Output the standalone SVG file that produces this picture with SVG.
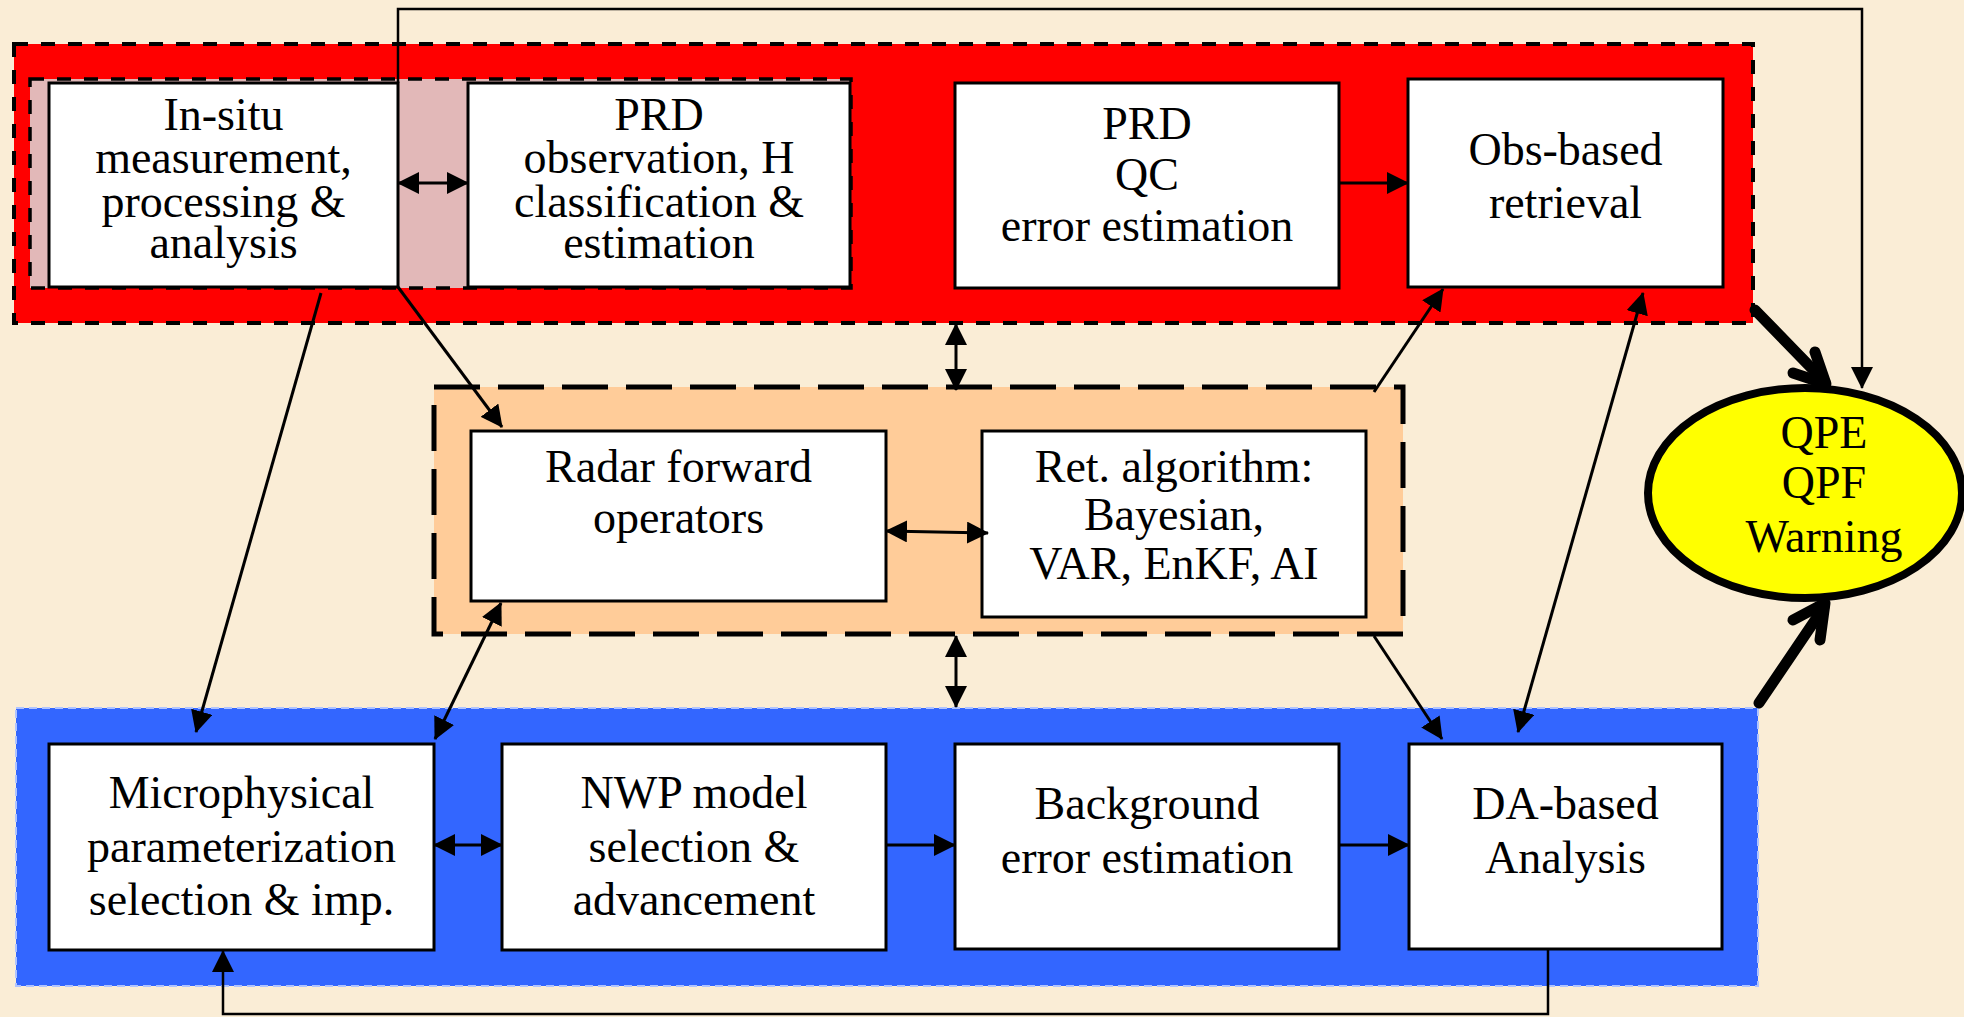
<svg xmlns="http://www.w3.org/2000/svg" width="1964" height="1017" viewBox="0 0 1964 1017">
<defs>
<style>
.box{fill:#ffffff;stroke:#000;stroke-width:3}
.t{font-family:"Liberation Serif","Times New Roman",serif;font-size:46px;fill:#000;text-anchor:middle}
.c{fill:none;stroke:#000;stroke-width:3}
.thin{fill:none;stroke:#000;stroke-width:2.5}
.thick{fill:none;stroke:#000;stroke-width:11;stroke-linecap:round;stroke-linejoin:round}
</style>
<marker id="ah" viewBox="0 0 22 22" refX="21" refY="11" markerWidth="22" markerHeight="22" markerUnits="userSpaceOnUse" orient="auto-start-reverse">
<path d="M0,0 L22,11 L0,22 z" fill="#000"/>
</marker>
</defs>
<rect x="0" y="0" width="1964" height="1017" fill="#FAEDD6"/>

<g id="group-red">
<rect x="14" y="44" width="1739" height="279" fill="#FF0000" stroke="#000" stroke-width="4" stroke-dasharray="14 13"/>
<rect x="30" y="79" width="821" height="209" fill="#E2B8B8" stroke="#000" stroke-width="3.5" stroke-dasharray="14 13"/>
</g>
<g id="group-orange">
<rect x="434" y="387" width="969" height="247" fill="#FFCC99" stroke="#000" stroke-width="5" stroke-dasharray="46 18"/>
</g>
<g id="group-blue">
<rect x="16" y="708" width="1742" height="278" fill="#3366FF" stroke="#AFC3FF" stroke-width="2" stroke-dasharray="8 5"/>
</g>

<g id="node-insitu">
<rect class="box" x="49" y="83" width="349" height="204"/>
<text class="t" x="223.5" y="130">In-situ</text>
<text class="t" x="223.5" y="173">measurement,</text>
<text class="t" x="223.5" y="217">processing &amp;</text>
<text class="t" x="223.5" y="258">analysis</text>
</g>
<g id="node-prdobs">
<rect class="box" x="468" y="83" width="382" height="204"/>
<text class="t" x="659" y="130">PRD</text>
<text class="t" x="659" y="173">observation, H</text>
<text class="t" x="659" y="217">classification &amp;</text>
<text class="t" x="659" y="258">estimation</text>
</g>
<g id="node-prdqc">
<rect class="box" x="955" y="83" width="384" height="205"/>
<text class="t" x="1147" y="139">PRD</text>
<text class="t" x="1147" y="190">QC</text>
<text class="t" x="1147" y="241">error estimation</text>
</g>
<g id="node-obs">
<rect class="box" x="1408" y="79" width="315" height="208"/>
<text class="t" x="1565.5" y="165">Obs-based</text>
<text class="t" x="1565.5" y="218">retrieval</text>
</g>
<g id="node-radar">
<rect class="box" x="471" y="431" width="415" height="170"/>
<text class="t" x="678.5" y="482">Radar forward</text>
<text class="t" x="678.5" y="533">operators</text>
</g>
<g id="node-ret">
<rect class="box" x="982" y="431" width="384" height="186"/>
<text class="t" x="1174" y="482">Ret. algorithm:</text>
<text class="t" x="1174" y="530">Bayesian,</text>
<text class="t" x="1174" y="579">VAR, EnKF, AI</text>
</g>
<g id="node-micro">
<rect class="box" x="49" y="744" width="385" height="206"/>
<text class="t" x="241.5" y="808">Microphysical</text>
<text class="t" x="241.5" y="862">parameterization</text>
<text class="t" x="241.5" y="915">selection &amp; imp.</text>
</g>
<g id="node-nwp">
<rect class="box" x="502" y="744" width="384" height="206"/>
<text class="t" x="694" y="808">NWP model</text>
<text class="t" x="694" y="862">selection &amp;</text>
<text class="t" x="694" y="915">advancement</text>
</g>
<g id="node-bg">
<rect class="box" x="955" y="744" width="384" height="205"/>
<text class="t" x="1147" y="819">Background</text>
<text class="t" x="1147" y="873">error estimation</text>
</g>
<g id="node-da">
<rect class="box" x="1409" y="744" width="313" height="205"/>
<text class="t" x="1565.5" y="819">DA-based</text>
<text class="t" x="1565.5" y="873">Analysis</text>
</g>
<g id="node-qpe">
<ellipse cx="1805" cy="493" rx="157" ry="105" fill="#FFFF00" stroke="#000" stroke-width="8"/>
<text class="t" x="1824" y="448">QPE</text>
<text class="t" x="1824" y="498">QPF</text>
<text class="t" x="1824" y="552">Warning</text>
</g>

<g id="connectors">
<path class="thin" d="M398,83 L398,9 L1862,9 L1862,388" marker-end="url(#ah)"/>
<path class="thin" d="M1548,949 L1548,1014 L223,1014 L223,951" marker-end="url(#ah)"/>
<line class="c" x1="398" y1="183" x2="468" y2="183" marker-start="url(#ah)" marker-end="url(#ah)"/>
<line class="c" x1="1338" y1="183" x2="1408" y2="183" marker-end="url(#ah)"/>
<line class="c" x1="886" y1="531" x2="988" y2="533" marker-start="url(#ah)" marker-end="url(#ah)"/>
<line class="c" x1="434" y1="845" x2="502" y2="845" marker-start="url(#ah)" marker-end="url(#ah)"/>
<line class="c" x1="886" y1="845" x2="955" y2="845" marker-end="url(#ah)"/>
<line class="c" x1="1339" y1="845" x2="1409" y2="845" marker-end="url(#ah)"/>
<line class="c" x1="321" y1="293" x2="196" y2="732" marker-end="url(#ah)"/>
<line class="c" x1="398" y1="287" x2="502" y2="427" marker-end="url(#ah)"/>
<line class="c" x1="501" y1="603" x2="435" y2="739" marker-start="url(#ah)" marker-end="url(#ah)"/>
<line class="c" x1="956" y1="324" x2="956" y2="390" marker-start="url(#ah)" marker-end="url(#ah)"/>
<line class="c" x1="956" y1="636" x2="956" y2="707" marker-start="url(#ah)" marker-end="url(#ah)"/>
<line class="c" x1="1374" y1="392" x2="1443" y2="289" marker-end="url(#ah)"/>
<line class="c" x1="1643" y1="293" x2="1518" y2="732" marker-start="url(#ah)" marker-end="url(#ah)"/>
<line class="c" x1="1374" y1="636" x2="1442" y2="739" marker-end="url(#ah)"/>
<path class="thick" d="M1755,310 L1825,382"/>
<path class="thick" d="M1815,352 L1826,384 L1793,373"/>
<path class="thick" d="M1759,703 L1824,607"/>
<path class="thick" d="M1793,620 L1825,603 L1820,640"/>
</g>
</svg>
